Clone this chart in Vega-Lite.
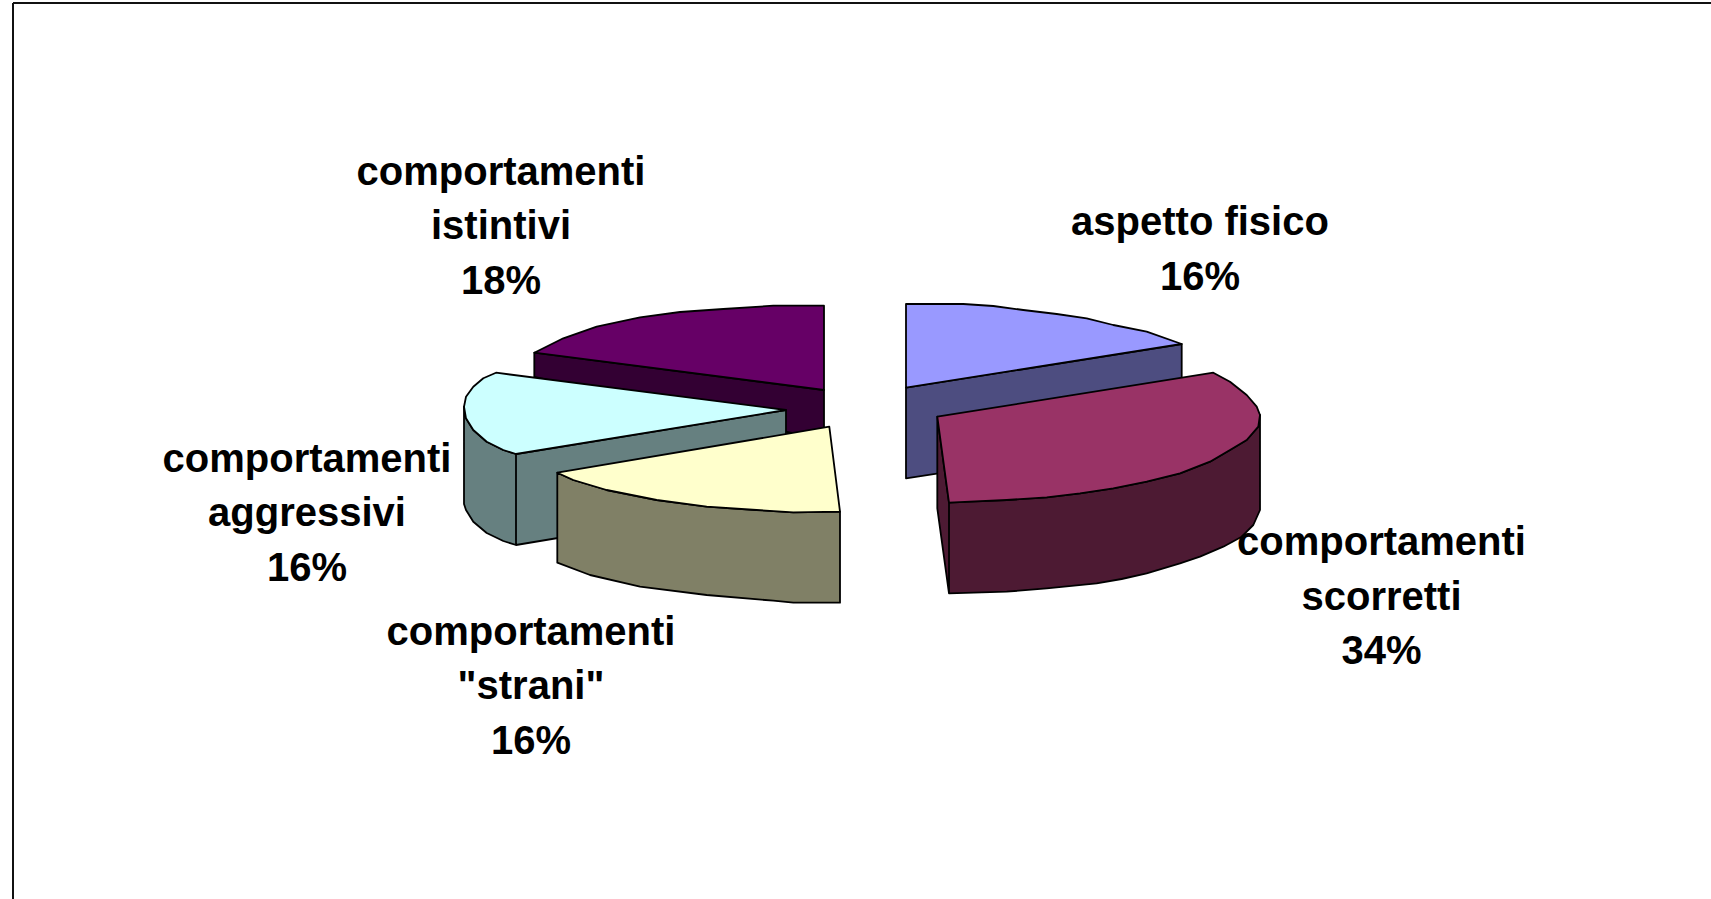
{
"$schema":"https://vega.github.io/schema/vega-lite/v6.json",
"width":1698,"height":896,
"padding":{"left":13,"top":3,"right":0,"bottom":0},
"autosize":{"type":"none"},
"background":"white",
"view":{"stroke":null},
"data":{"values":[
{"category":"comportamenti istintivi","share":18,"label":"comportamenti\nistintivi\n18%"},
{"category":"comportamenti aggressivi","share":16,"label":"comportamenti\naggressivi\n16%"},
{"category":"comportamenti \"strani\"","share":16,"label":"comportamenti\n\"strani\"\n16%"},
{"category":"aspetto fisico","share":16,"label":"aspetto fisico\n16%"},
{"category":"comportamenti scorretti","share":34,"label":"comportamenti\nscorretti\n34%"}
]},
"layer":[
{"mark":{"type":"rule","color":"#111111","strokeWidth":2},"encoding":{"x":{"datum":0,"type":"quantitative","scale":{"domain":[0,1]},"axis":null}}},
{"mark":{"type":"rule","color":"#111111","strokeWidth":2},"encoding":{"y":{"datum":1,"type":"quantitative","scale":{"domain":[0,1]},"axis":null}}},
{"mark":{"type":"point","filled":true,"size":4,"opacity":1,"stroke":"black","strokeWidth":1.8,"strokeJoin":"round"},
 "encoding":{
  "fill":{"field":"category","type":"nominal","legend":null,"scale":{"domain":["comportamenti istintivi","comportamenti aggressivi","comportamenti \"strani\"","aspetto fisico","comportamenti scorretti"],"range":["#330033","#668080","#808066","#4D4D80","#4D1A33"]}},
  "shape":{"field":"category","type":"nominal","legend":null,"scale":{"domain":["comportamenti istintivi","comportamenti aggressivi","comportamenti \"strani\"","aspetto fisico","comportamenti scorretti"],"range":[
   "M-327.7,-98.3L-38,-61L-38,-11L-327.7,-74Z",
   "M-346,3L-76,-41L-76,49L-346,94ZM-398,-44.3L-396,-32.7L-388.7,-21L-375.3,-9.3L-358.7,-1L-346,3L-346,94L-358.7,90L-375.3,82L-388.7,70.7L-396,59L-398,53Z",
   "M-304.7,21.7L-288.7,29L-255.3,39L-205.3,49L-155.3,55.7L-105.3,59L-68.7,61.3L-22,60.7L-22,151.7L-68.7,151.7L-88.7,149.7L-155.3,144L-222,135.7L-272,124L-304.7,111.7Z",
   "M44,-63.3L319.7,-107L319.7,-15L44,27.3Z",
   "M75.3,-34.3L87,51.7L87,142.3L75.3,57.3ZM398,-36L396.3,-24.3L384.7,-11L368,-1L348,10.7L318,22.3L284.7,30.7L251.3,37.3L218,42.3L184.7,46.3L144.7,49L108,50.7L87,51.7L87,142.3L144.7,140.7L184.7,137.3L234.7,132.3L259.7,128L284.7,122.3L318,112.3L338,105.7L361.3,95.7L379.7,85.7L391.3,74L398,59Z"
  ]}}
 }},
{"mark":{"type":"point","filled":true,"size":4,"opacity":1,"stroke":"black","strokeWidth":1.8,"strokeJoin":"round"},
 "encoding":{
  "fill":{"field":"category","type":"nominal","legend":null,"scale":{"domain":["comportamenti istintivi","comportamenti aggressivi","comportamenti \"strani\"","aspetto fisico","comportamenti scorretti"],"range":["#660066","#CCFFFF","#FFFFCC","#9999FF","#993366"]}},
  "shape":{"field":"category","type":"nominal","legend":null,"scale":{"domain":["comportamenti istintivi","comportamenti aggressivi","comportamenti \"strani\"","aspetto fisico","comportamenti scorretti"],"range":[
   "M-327.7,-98.3L-298.7,-112.7L-265.3,-124.3L-222,-133.7L-182,-139L-138.7,-142L-88.7,-145.3L-38,-145.3L-38,-61Z",
   "M-366,-78.3L-378.7,-72.7L-388.7,-64.3L-396,-54.3L-398,-44.3L-396,-32.7L-388.7,-21L-375.3,-9.3L-358.7,-1L-346,3L-76,-41Z",
   "M-304.7,21.7L-288.7,29L-255.3,39L-205.3,49L-155.3,55.7L-105.3,59L-68.7,61.3L-22,60.7L-32.7,-24.3Z",
   "M44,-147L101.3,-147L131.3,-145L161.3,-141L194.7,-137L224.7,-132.7L251.3,-126L284.7,-119.3L319.7,-107L44,-63.3Z",
   "M75.3,-34.3L351.3,-78.3L368,-69.3L384.7,-56L394.7,-44.3L398,-36L396.3,-24.3L384.7,-11L368,-1L348,10.7L318,22.3L284.7,30.7L251.3,37.3L218,42.3L184.7,46.3L144.7,49L108,50.7L87,51.7Z"
  ]}}
 }},
{"transform":[{"filter":"datum.category === 'comportamenti istintivi'"}],"mark":{"type":"text","font":"Liberation Sans","fontWeight":"bold","fontSize":40,"lineHeight":54.5,"lineBreak":"\n","align":"center","baseline":"middle","color":"black","dx":-361,"dy":-278.5},"encoding":{"text":{"field":"label"}}},
{"transform":[{"filter":"datum.category === 'comportamenti aggressivi'"}],"mark":{"type":"text","font":"Liberation Sans","fontWeight":"bold","fontSize":40,"lineHeight":54.5,"lineBreak":"\n","align":"center","baseline":"middle","color":"black","dx":-555,"dy":8.5},"encoding":{"text":{"field":"label"}}},
{"transform":[{"filter":"datum.category === 'comportamenti \"strani\"'"}],"mark":{"type":"text","font":"Liberation Sans","fontWeight":"bold","fontSize":40,"lineHeight":54.5,"lineBreak":"\n","align":"center","baseline":"middle","color":"black","dx":-331,"dy":181.5},"encoding":{"text":{"field":"label"}}},
{"transform":[{"filter":"datum.category === 'aspetto fisico'"}],"mark":{"type":"text","font":"Liberation Sans","fontWeight":"bold","fontSize":40,"lineHeight":54.5,"lineBreak":"\n","align":"center","baseline":"middle","color":"black","dx":338,"dy":-228},"encoding":{"text":{"field":"label"}}},
{"transform":[{"filter":"datum.category === 'comportamenti scorretti'"}],"mark":{"type":"text","font":"Liberation Sans","fontWeight":"bold","fontSize":40,"lineHeight":54.5,"lineBreak":"\n","align":"center","baseline":"middle","color":"black","dx":519.5,"dy":92},"encoding":{"text":{"field":"label"}}}
],
"resolve":{"scale":{"fill":"independent","shape":"independent","x":"independent","y":"independent"}}
}
